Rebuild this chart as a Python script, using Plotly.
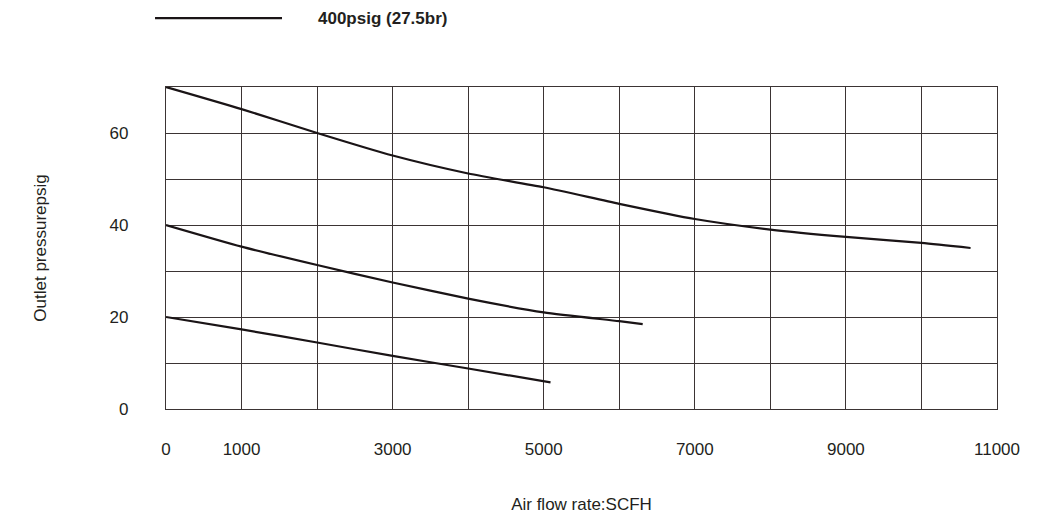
import plotly.graph_objects as go

# ---- data ----
flow_a = [0, 1000, 2000, 3000, 4000, 5000, 6000, 7000, 8000, 9000, 10000, 10650]
pres_a = [70, 65.2, 60, 55.1, 51.2, 48.2, 44.6, 41.3, 39.0, 37.4, 36.1, 35.0]

flow_b = [0, 1000, 2000, 3000, 4000, 5000, 6000, 6310]
pres_b = [40, 35.3, 31.3, 27.5, 24.0, 21.0, 19.1, 18.45]

flow_c = [0, 1000, 2000, 3000, 4000, 5090]
pres_c = [20, 17.3, 14.45, 11.55, 8.8, 5.8]

x_tickvals = [0, 1000, 2000, 3000, 4000, 5000, 6000, 7000, 8000, 9000, 10000, 11000]
x_ticktext = ["0", "1000", "", "3000", "", "5000", "", "7000", "", "9000", "", "11000"]
y_tickvals = [0, 10, 20, 30, 40, 50, 60, 70]
y_ticktext = ["0", "", "20", "", "40", "", "60", ""]

series_name = "400psig (27.5br)"
x_title = "Air flow rate:SCFH"
y_title = "Outlet pressurepsig"

FONT = "Liberation Sans, Arial, sans-serif"
TXT = "#231f20"
GRID = "#3b3434"
LINE = "#1a1416"

fig = go.Figure()
for xs, ys in [(flow_a, pres_a), (flow_b, pres_b), (flow_c, pres_c)]:
    fig.add_trace(go.Scatter(
        x=xs, y=ys, mode="lines", name=series_name, showlegend=False,
        line=dict(color=LINE, width=2.2, shape="spline", smoothing=0.6),
    ))

fig.update_layout(
    width=1031, height=508,
    margin=dict(l=158, r=42, t=79, b=107),
    paper_bgcolor="white", plot_bgcolor="white",
    font=dict(family=FONT, size=17, color=TXT),
    showlegend=False,
    xaxis=dict(
        range=[0, 11000], tickmode="array", tickvals=x_tickvals, ticktext=x_ticktext,
        showgrid=True, gridcolor=GRID, gridwidth=1.4, zeroline=False,
        showline=True, linecolor=GRID, linewidth=1.4, mirror=True,
        ticks="", ticklabelstandoff=24, automargin=False,
        title=dict(text=x_title, standoff=40, font=dict(size=17)),
    ),
    yaxis=dict(
        range=[0, 70], tickmode="array", tickvals=y_tickvals, ticktext=y_ticktext,
        showgrid=True, gridcolor=GRID, gridwidth=1.4, zeroline=False,
        showline=True, linecolor=GRID, linewidth=1.4, mirror=True,
        ticks="", ticklabelstandoff=33, automargin=False,
        title=dict(text=y_title, standoff=58, font=dict(size=17)),
    ),
)

# legend drawn as a long sample line + bold label, like the reference
fig.add_shape(type="line", xref="paper", yref="paper",
              x0=-0.0132, x1=0.1396, y0=1.214, y1=1.214,
              line=dict(color=LINE, width=2.2))
fig.add_annotation(xref="paper", yref="paper", x=0.1805, y=1.214,
                   xanchor="left", yanchor="middle", showarrow=False,
                   text="<b>" + series_name + "</b>",
                   font=dict(family=FONT, size=17, color=TXT))

fig.write_html("out.html")
